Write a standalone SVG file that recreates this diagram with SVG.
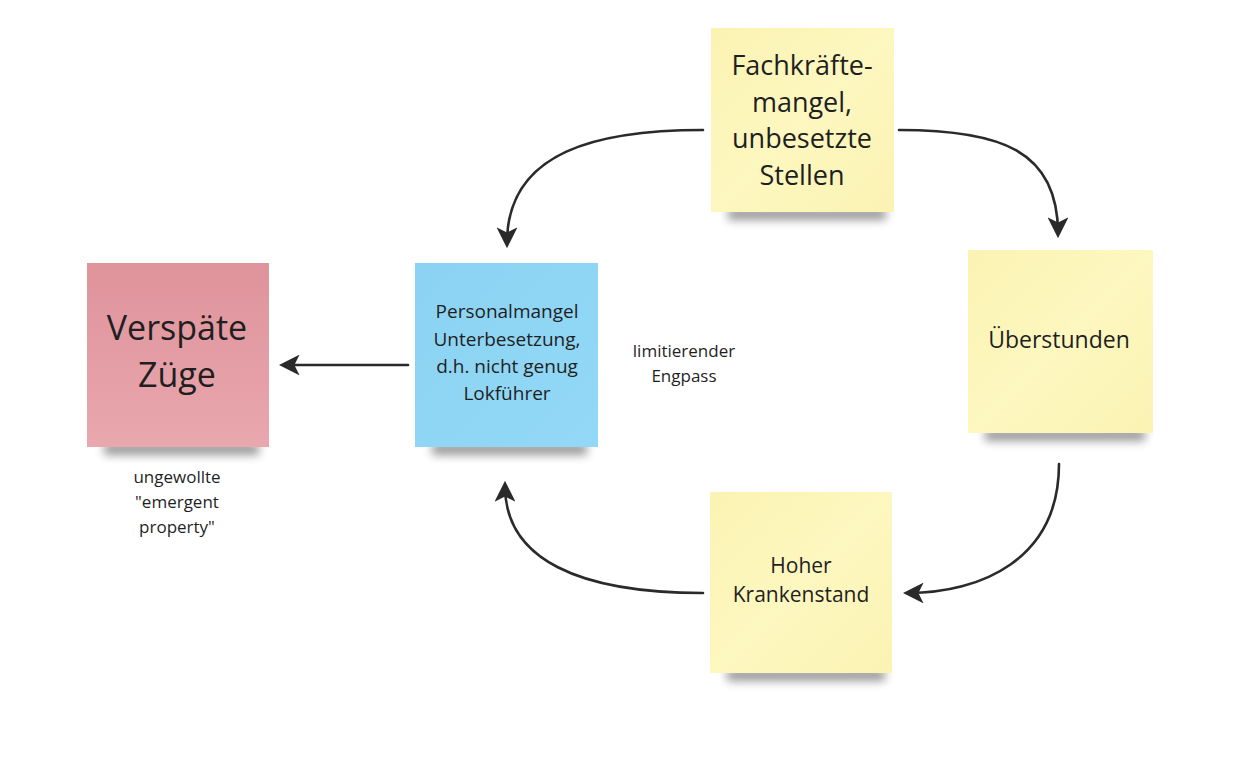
<svg xmlns="http://www.w3.org/2000/svg" width="1248" height="760" viewBox="0 0 1248 760">
<style>
.t{font-family:"Open Sans","Noto Sans","Liberation Sans",sans-serif;fill:#1f1f1f;text-anchor:middle}
.c{fill:none;stroke:#2a2a2a;stroke-width:2.6;stroke-linecap:round}
.sh{fill:#000;opacity:0.4;filter:url(#blur)}
</style>
<defs>
<filter id="blur" x="-20%" y="-200%" width="140%" height="500%"><feGaussianBlur stdDeviation="5"/></filter>
<marker id="ah" viewBox="0 0 12 12" refX="9" refY="6" markerWidth="8" markerHeight="8" markerUnits="strokeWidth" orient="auto">
<path d="M0,0 L12,6 L0,12 L3,6 z" fill="#2a2a2a"/>
</marker>
<linearGradient id="gy" x1="0" y1="0" x2="1" y2="1"><stop offset="0" stop-color="#fbf3b2"/><stop offset="0.5" stop-color="#fdf7c0"/><stop offset="1" stop-color="#fbf3b3"/></linearGradient>
<linearGradient id="gr" x1="0" y1="0" x2="0" y2="1"><stop offset="0" stop-color="#df939b"/><stop offset="1" stop-color="#e9a7ae"/></linearGradient>
<linearGradient id="gb" x1="0" y1="0" x2="1" y2="1"><stop offset="0" stop-color="#8bd3f3"/><stop offset="1" stop-color="#93d8f6"/></linearGradient>
</defs>
<rect width="1248" height="760" fill="#ffffff"/>

<g id="connectors">
<path class="c" d="M703,130 C600,130 507,150 507,243" marker-end="url(#ah)"/>
<path class="c" d="M899,130 C1000,130 1058,150 1058,233" marker-end="url(#ah)"/>
<path class="c" d="M1059,464 C1059,560 980,593 908,593" marker-end="url(#ah)"/>
<path class="c" d="M703,593 C580,593 505,560 505,486" marker-end="url(#ah)"/>
<path class="c" d="M408,365 L284,365" marker-end="url(#ah)"/>
</g>

<g id="fachkraefte">
<rect class="sh" x="728" y="208" width="158" height="12"/>
<rect x="711" y="28" width="183" height="184" fill="url(#gy)"/>
<text class="t" font-size="27"><tspan x="802" y="75">Fachkräfte-</tspan><tspan x="802" y="112">mangel,</tspan><tspan x="802" y="148">unbesetzte</tspan><tspan x="802" y="185">Stellen</tspan></text>
</g>

<g id="personalmangel">
<rect class="sh" x="432" y="443" width="155" height="12"/>
<rect x="415" y="263" width="183" height="184" fill="url(#gb)"/>
<text class="t" font-size="19" fill="#1b2c38"><tspan x="507" y="318">Personalmangel</tspan><tspan x="507" y="346">Unterbesetzung,</tspan><tspan x="507" y="373">d.h. nicht genug</tspan><tspan x="507" y="400">Lokführer</tspan></text>
</g>

<g id="verspaetet">
<rect class="sh" x="104" y="443" width="155" height="12"/>
<rect x="87" y="263" width="182" height="184" fill="url(#gr)"/>
<text class="t" font-size="34"><tspan x="177" y="340">Verspäte</tspan><tspan x="177" y="387">Züge</tspan></text>
<text class="t" font-size="17"><tspan x="177" y="483">ungewollte</tspan><tspan x="177" y="508">"emergent</tspan><tspan x="177" y="533">property"</tspan></text>
</g>

<g id="ueberstunden">
<rect class="sh" x="985" y="429" width="160" height="12"/>
<rect x="968" y="250" width="185" height="183" fill="url(#gy)"/>
<text class="t" font-size="23" x="1059" y="348">Überstunden</text>
</g>

<g id="krankenstand">
<rect class="sh" x="727" y="669" width="158" height="12"/>
<rect x="710" y="492" width="182" height="181" fill="url(#gy)"/>
<text class="t" font-size="21"><tspan x="801" y="573">Hoher</tspan><tspan x="801" y="602">Krankenstand</tspan></text>
</g>

<g id="engpass">
<text class="t" font-size="17"><tspan x="684" y="357">limitierender</tspan><tspan x="684" y="382">Engpass</tspan></text>
</g>
</svg>
